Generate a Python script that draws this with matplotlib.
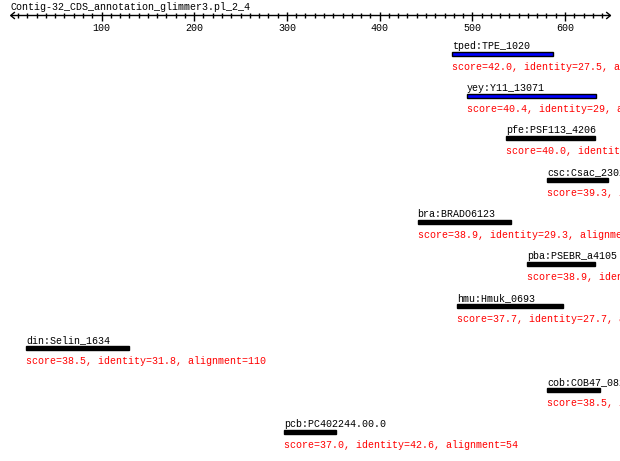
import matplotlib
matplotlib.use("Agg")
import matplotlib.pyplot as plt

# contig ruler
title = "Contig-32_CDS_annotation_glimmer3.pl_2_4"
ruler_start, ruler_end = 2, 649
major_ticks = [100, 200, 300, 400, 500, 600]
minor_ticks = list(range(10, 641, 10))

# hits (sequence coordinates)
names = ["tped:TPE_1020", "yey:Y11_13071", "pfe:PSF113_4206", "csc:Csac_2302",
         "bra:BRADO6123", "pba:PSEBR_a4105", "hmu:Hmuk_0693", "din:Selin_1634",
         "cob:COB47_0823", "pcb:PC402244.00.0"]
starts = [478, 494, 536, 581, 441, 559, 484, 19, 581, 297]
ends = [587, 633, 632, 646, 542, 632, 598, 130, 638, 353]
scores = ["42.0", "40.4", "40.0", "39.3", "38.9", "38.9", "37.7", "38.5", "38.5", "37.0"]
identities = ["27.5", "29", "30.2", "28.1", "29.3", "31.0", "27.7", "31.8", "33.3", "42.6"]
alignments = [109, 139, 96, 65, 101, 73, 114, 110, 57, 54]

FONT = dict(family="Liberation Mono", size=7.2)

fig = plt.figure(figsize=(6.2, 4.61), dpi=100)
ax = fig.add_axes([0, 0, 1, 1])
# x in sequence units, y in pixels from the top
ax.set_xlim(-9.5, 659.3)
ax.set_ylim(461, 0)
ax.axis("off")

ax.text(1.5, 10, title, color="black", va="baseline", ha="left", **FONT)

# ruler with arrows
ax.hlines(15.5, ruler_start, ruler_end, color="black", lw=1)
ax.plot([ruler_start + 4, ruler_start, ruler_start + 4], [12.5, 15.5, 18.5], color="black", lw=1)
ax.plot([ruler_end - 4, ruler_end, ruler_end - 4], [12.5, 15.5, 18.5], color="black", lw=1)
ax.vlines([t for t in minor_ticks if t not in major_ticks], 13, 18, color="black", lw=1)
ax.vlines(major_ticks, 12, 21, color="black", lw=1)
for t in major_ticks:
    ax.text(t, 31, str(t), ha="center", va="baseline", color="black", **FONT)

# hits
row0, row_step = 54, 42
for i, name in enumerate(names):
    yc = row0 + row_step * i
    color = "#0000ff" if float(scores[i]) > 40 else "black"
    ax.barh(yc, ends[i] - starts[i], left=starts[i], height=4,
            color=color, edgecolor="black", linewidth=1)
    ax.text(starts[i], yc - 5, name, ha="left", va="baseline", color="black",
            clip_on=True, **FONT)
    desc = "score=%s, identity=%s, alignment=%d" % (scores[i], identities[i], alignments[i])
    ax.text(starts[i], yc + 15.5, desc, ha="left", va="baseline", color="red",
            clip_on=True, **FONT)

fig.savefig("out.png", dpi=100)
